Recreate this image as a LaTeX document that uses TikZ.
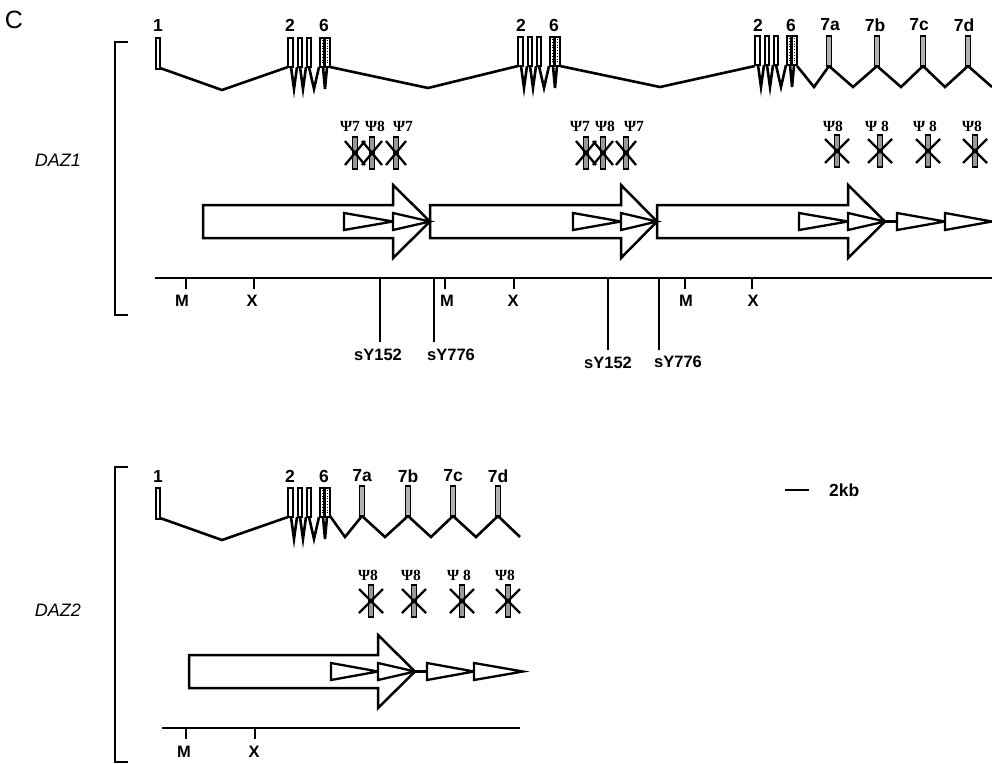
\documentclass[tikz,border=0pt]{standalone}
\usepackage{fontspec}
\setmainfont{Liberation Sans}
\newfontfamily\psifont{Liberation Serif}
\begin{document}
\begin{tikzpicture}[x=1pt,y=-1pt]
\tikzset{
 ln/.style={line width=2.6pt, line join=miter},
 tick/.style={line width=2.2pt},
 exonbox/.style={draw, line width=1.7pt, fill=white},
 exongrey/.style={draw, line width=1.5pt, fill=black!30},
 lbl/.style={font=\bfseries\fontsize{16.5}{18}\selectfont, inner sep=0pt},
 exl/.style={font=\bfseries\fontsize{17.5}{19}\selectfont, inner sep=0pt},
 psil/.style={font=\psifont\bfseries\fontsize{15.5}{17}\selectfont, inner sep=0pt},
 bigarrow/.style={draw, line width=2.5pt, fill=white, line join=miter},
 tri/.style={draw, line width=2.3pt, fill=white, line join=miter},
 crossln/.style={line width=2.3pt},
}
\useasboundingbox (0,0) rectangle (992,763);
\newcommand\dzclust[2]{%
 \begin{scope}[shift={(#1,#2)}]
 \draw[exonbox] (0,38) rectangle (5,67);
 \draw[exonbox] (10,38) rectangle (14,67);
 \draw[exonbox] (19,38) rectangle (23,67);
 \draw[exonbox] (32,38) rectangle (36,67);
 \draw[exonbox] (37,38) rectangle (42,67);
 \draw[dotted, line width=0.8pt] (34,40)--(34,65) (39.5,40)--(39.5,65);
 \draw[ln] (3,67)--(6,89)--(9,67) (12,67)--(15,89)--(18,67) (21,67)--(26,89)--(31,67) (35,67)--(37,89)--(39,67);
 \end{scope}}
\newcommand\dzpsi[2]{%
 \draw[line width=1.3pt, fill=black!40] ({#1-2.5},#2) rectangle ({#1+2.5},{#2+32});
 \draw[crossln] ({#1-12},{#2+4})--({#1+12},{#2+28}) ({#1-12},{#2+28})--({#1+12},{#2+4});}
\newcommand\dzpsis[2]{%
 \draw[line width=1.3pt, fill=black!40] ({#1-2.5},#2) rectangle ({#1+2.5},{#2+32});
 \draw[crossln] ({#1-10},{#2+4})--({#1+10},{#2+28}) ({#1-10},{#2+28})--({#1+10},{#2+4});}
\newcommand\dzarrow[4]{% x0, xb, tip, yoffset
 \draw[bigarrow] (#1,{205+#4})--(#2,{205+#4})--(#2,{185+#4})--(#3,{221.5+#4})--(#2,{258+#4})--(#2,{238+#4})--(#1,{238+#4})--cycle;}
\newcommand\dztri[3]{% a, b, yoffset
 \draw[tri] (#1,{213+#3})--(#2,{221.5+#3})--(#1,{230+#3})--cycle;}

% panel letter
\node[font=\fontsize{25}{27}\selectfont, inner sep=0pt] (C) at (14,20) {C};

% ================= DAZ1 =================
\draw[ln] (128,42)--(115,42)--(115,315)--(128,315);
\node[font=\itshape\fontsize{18}{20}\selectfont, inner sep=0pt] (daz1) at (58,160) {DAZ1};

% exons and introns
\draw[ln] (160,68)--(222,90)--(288,67);
\draw[ln] (330,67)--(428,88)--(518,66);
\draw[ln] (560,66)--(660,87)--(755,66);
\draw[ln] (797,66)--(814,87)--(829,66)--(853,87)--(877,66)--(901,87)--(923,66)--(945,87)--(968,66)--(992,87);
\draw[exonbox] (156,38) rectangle (160,69);
\dzclust{288}{0}
\dzclust{518}{-1}
\dzclust{755}{-2}
\foreach \ex in {829,877,923,968}{\draw[exongrey] ({\ex-2.5},36) rectangle ({\ex+2.5},66);}

\node[exl] (e1) at (158,25) {1};
\node[exl] (e2a) at (290,25) {2};
\node[exl] (e6a) at (324,25) {6};
\node[exl] (e2b) at (521,25) {2};
\node[exl] (e6b) at (554,25) {6};
\node[exl] (e2c) at (758,25) {2};
\node[exl] (e6c) at (791,25) {6};
\node[exl] (e7a) at (830,25) {7a};
\node[exl] (e7b) at (875,25) {7b};
\node[exl] (e7c) at (919,25) {7c};
\node[exl] (e7d) at (964,25) {7d};

% pseudogenes
\dzpsis{355}{137}\dzpsis{372}{137}\dzpsis{396}{137}
\dzpsis{586}{137}\dzpsis{603}{137}\dzpsis{626}{137}
\dzpsi{837}{135}\dzpsi{880}{135}\dzpsi{928}{135}\dzpsi{975}{135}
\node[psil] (p1) at (350,126) {Ψ7};
\node[psil] (p2) at (375,126) {Ψ8};
\node[psil] (p3) at (403,126) {Ψ7};
\node[psil] (p4) at (580,126) {Ψ7};
\node[psil] (p5) at (605,126) {Ψ8};
\node[psil] (p6) at (634,126) {Ψ7};
\node[psil] (p7) at (833,126) {Ψ8};
\node[psil] (p8) at (877,126) {Ψ 8};
\node[psil] (p9) at (925,126) {Ψ 8};
\node[psil] (p10) at (972,126) {Ψ8};

% arrows
\dzarrow{203}{393}{430}{0}
\dzarrow{430}{621}{657}{0}
\dzarrow{657}{848}{885}{0}
\dztri{344}{393}{0}\dztri{393}{430}{0}
\dztri{573}{621}{0}\dztri{621}{657}{0}
\dztri{799}{848}{0}\dztri{848}{885}{0}
\draw[ln] (885,221.5)--(897,221.5);
\dztri{897}{945}{0}\dztri{945}{992}{0}

% map
\draw[ln] (155,278)--(992,278);
\foreach \tx in {186,254,445,514,685,752}{\draw[tick] (\tx,278)--(\tx,289);}
\node[lbl] (m1) at (182,301) {M};
\node[lbl] (x1) at (252,301) {X};
\node[lbl] (m2) at (447,301) {M};
\node[lbl] (x2) at (513,301) {X};
\node[lbl] (m3) at (686,301) {M};
\node[lbl] (x3) at (753,301) {X};
\draw[tick] (380,278)--(380,342);
\draw[tick] (434,278)--(434,342);
\draw[tick] (608,278)--(608,350);
\draw[tick] (659,278)--(659,350);
\node[lbl] (s1) at (378,355) {sY152};
\node[lbl] (s2) at (451,355) {sY776};
\node[lbl] (s3) at (608,363) {sY152};
\node[lbl] (s4) at (678,362) {sY776};

% ================= DAZ2 =================
\draw[ln] (128,467)--(115,467)--(115,762)--(128,762);
\node[font=\itshape\fontsize{18}{20}\selectfont, inner sep=0pt] (daz2) at (58,610) {DAZ2};

\draw[ln] (160,518)--(222,540)--(288,517);
\draw[ln] (330,516)--(345,537)--(362,516)--(385,537)--(408,516)--(431,537)--(453,516)--(476,537)--(498,516)--(520,537);
\draw[exonbox] (156,488) rectangle (160,519);
\dzclust{288}{450}
\foreach \ex in {362,408,453,498}{\draw[exongrey] ({\ex-2.5},486) rectangle ({\ex+2.5},516);}
\node[exl] (f1) at (158,476) {1};
\node[exl] (f2) at (290,476) {2};
\node[exl] (f6) at (324,476) {6};
\node[exl] (f7a) at (362,476) {7a};
\node[exl] (f7b) at (408,476) {7b};
\node[exl] (f7c) at (453,476) {7c};
\node[exl] (f7d) at (498,476) {7d};

\dzpsi{371}{585}\dzpsi{414}{585}\dzpsi{462}{585}\dzpsi{508}{585}
\node[psil] (q1) at (368,575) {Ψ8};
\node[psil] (q2) at (411,575) {Ψ8};
\node[psil] (q3) at (459,575) {Ψ 8};
\node[psil] (q4) at (505,575) {Ψ8};

\dzarrow{189}{378}{415}{450}
\dztri{331}{378}{450}\dztri{378}{415}{450}
\draw[ln] (415,671.5)--(427,671.5);
\dztri{427}{474}{450}\dztri{474}{523}{450}

\draw[ln] (162,728)--(520,728);
\foreach \tx in {186,255}{\draw[tick] (\tx,728)--(\tx,739);}
\node[lbl] (mm) at (184,752) {M};
\node[lbl] (xx) at (254,752) {X};

% scale bar
\draw[ln] (785,490)--(809,490);
\node[exl, anchor=west] (kb) at (829,490) {2kb};
\end{tikzpicture}
\end{document}
